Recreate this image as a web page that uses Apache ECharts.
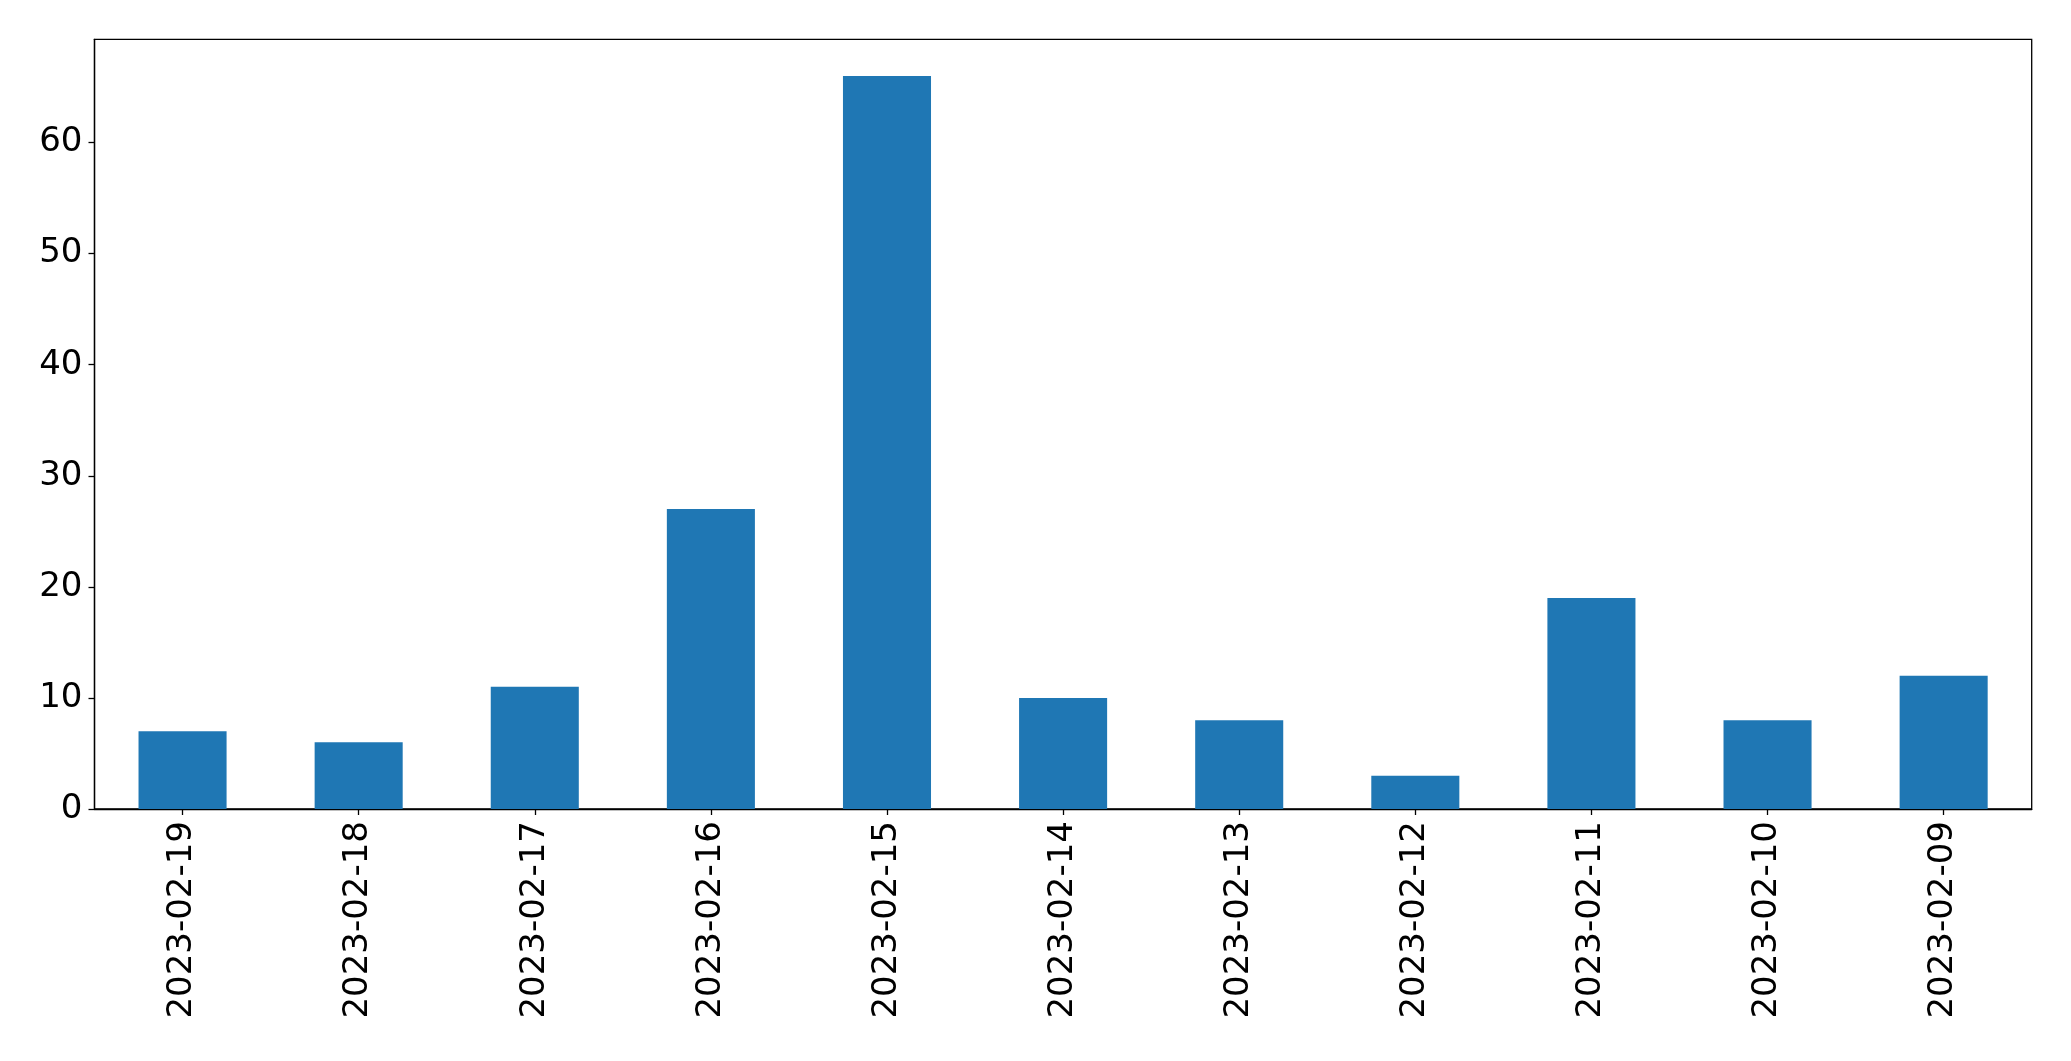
<!DOCTYPE html>
<html>
<head>
<meta charset="utf-8">
<script src="https://cdn.jsdelivr.net/npm/echarts@6/dist/echarts.min.js"></script>
<style>
html,body{margin:0;padding:0;background:#fff;}
#chart{width:2071px;height:1061px;}
</style>
</head>
<body>
<div id="chart"></div>
<script>
const categories = ['2023-02-19','2023-02-18','2023-02-17','2023-02-16','2023-02-15','2023-02-14','2023-02-13','2023-02-12','2023-02-11','2023-02-10','2023-02-09'];
const values = [7, 6, 11, 27, 66, 10, 8, 3, 19, 8, 12];
const yTicks = [0, 10, 20, 30, 40, 50, 60];

const chart = echarts.init(document.getElementById('chart'));
const font = 'DejaVu Sans';
chart.setOption({
  animation: false,
  backgroundColor: '#ffffff',
  grid: {
    left: 94.5, right: 39.3, top: 39.3, bottom: 252,
    containLabel: false,
    show: true, borderColor: '#000', borderWidth: 1.3, backgroundColor: 'transparent'
  },
  xAxis: {
    type: 'category',
    data: categories,
    boundaryGap: true,
    axisLine: {show: true, lineStyle: {color: '#000', width: 1.3}},
    axisTick: {show: true, alignWithLabel: true, length: 6, lineStyle: {color: '#000', width: 1.3}},
    axisLabel: {rotate: 90, fontSize: 34, fontFamily: font, color: '#000', margin: 12},
    splitLine: {show: false}
  },
  yAxis: {
    type: 'value',
    min: 0, max: 69.3, interval: 10,
    axisLine: {show: true, lineStyle: {color: '#000', width: 1.3}},
    axisTick: {show: true, length: 6, lineStyle: {color: '#000', width: 1.3}, customValues: yTicks},
    axisLabel: {fontSize: 34, fontFamily: font, color: '#000', margin: 12, customValues: yTicks},
    splitLine: {show: false}
  },
  series: [{
    type: 'bar',
    data: values,
    barWidth: '50%',
    itemStyle: {color: '#1f77b4'}
  }]
});
</script>
</body>
</html>
